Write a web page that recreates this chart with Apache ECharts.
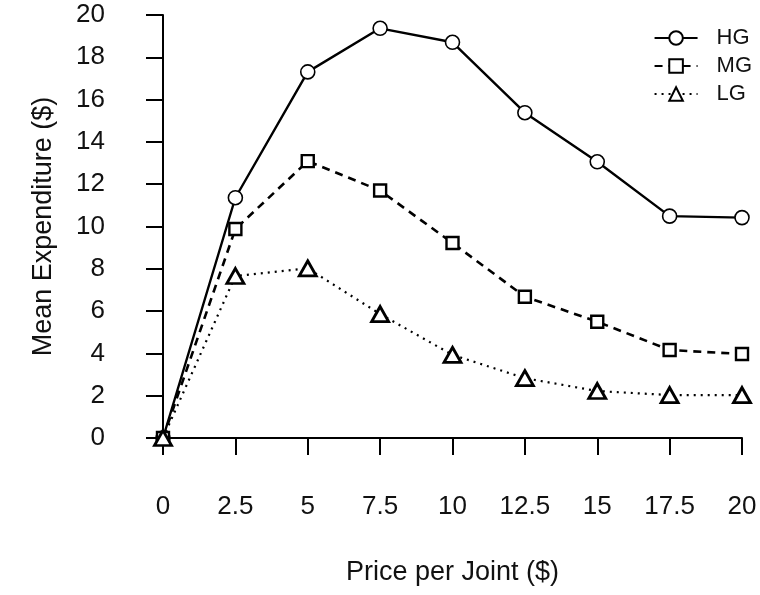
<!DOCTYPE html>
<html>
<head>
<meta charset="utf-8">
<script src="https://cdn.jsdelivr.net/npm/echarts@6/dist/echarts.min.js"></script>
<style>html,body{margin:0;padding:0;background:#fff}#c{width:760px;height:595px}</style>
</head>
<body>
<div id="c"></div>
<script>
const prices = [0, 2.5, 5, 7.5, 10, 12.5, 15, 17.5, 20];
const HG = [0, 11.36, 17.31, 19.37, 18.71, 15.38, 13.06, 10.49, 10.42];
const MG = [0, 9.88, 13.09, 11.7, 9.22, 6.68, 5.5, 4.16, 3.97];
const LG = [0, 7.66, 8.02, 5.86, 3.93, 2.83, 2.22, 2.03, 2.03];
const seriesNames = ['HG', 'MG', 'LG'];
const xTitle = 'Price per Joint ($)';
const yTitle = 'Mean Expenditure ($)';

const FONT = 'Liberation Sans, Arial, sans-serif';
const pair = arr => prices.map((p, i) => [p, arr[i]]);

const chart = echarts.init(document.getElementById('c'), null, {renderer: 'canvas'});
chart.setOption({
  backgroundColor: '#fff',
  animation: false,
  textStyle: {fontFamily: FONT, color: '#111'},
  grid: {left: 163, right: 18, top: 15, bottom: 157, containLabel: false},
  legend: {
    orient: 'vertical', right: 8, top: 27, padding: 0,
    itemWidth: 43, itemHeight: 17, itemGap: 6,
    textStyle: {fontFamily: FONT, fontSize: 22, color: '#111', padding: [0, 0, 0, 14]},
    data: seriesNames
  },
  xAxis: {
    type: 'value', min: 0, max: 20, interval: 2.5, offset: 17,
    name: xTitle, nameLocation: 'middle', nameGap: 104,
    nameTextStyle: {fontFamily: FONT, fontSize: 27, color: '#111'},
    axisLine: {show: true, lineStyle: {color: '#000', width: 2}},
    axisTick: {show: true, length: 17, lineStyle: {color: '#000', width: 2}},
    axisLabel: {fontFamily: FONT, fontSize: 26, color: '#111', margin: 39},
    splitLine: {show: false}
  },
  yAxis: {
    type: 'value', min: 0, max: 20, interval: 2, offset: 23,
    name: yTitle, nameLocation: 'middle', nameGap: 83,
    nameTextStyle: {fontFamily: FONT, fontSize: 27, color: '#111'},
    axisLine: {show: true, lineStyle: {color: '#000', width: 2}},
    axisTick: {show: true, length: 17, lineStyle: {color: '#000', width: 2}},
    axisLabel: {fontFamily: FONT, fontSize: 26, color: '#111', margin: 35},
    splitLine: {show: false}
  },
  series: [
    {
      name: 'HG', type: 'line', data: pair(HG),
      symbol: 'circle', symbolSize: 14,
      itemStyle: {color: '#fff', borderColor: '#000', borderWidth: 1.6},
      lineStyle: {color: '#000', width: 2.4, type: 'solid'}
    },
    {
      name: 'MG', type: 'line', data: pair(MG),
      symbol: 'rect', symbolSize: 12,
      itemStyle: {color: '#fff', borderColor: '#000', borderWidth: 2.4},
      lineStyle: {color: '#000', width: 2.6, type: [8, 6]}
    },
    {
      name: 'LG', type: 'line', data: pair(LG),
      symbol: 'triangle', symbolSize: [17, 15],
      itemStyle: {color: '#fff', borderColor: '#000', borderWidth: 2.8},
      lineStyle: {color: '#000', width: 2.2, type: [2, 5]}
    }
  ]
});
</script>
</body>
</html>
